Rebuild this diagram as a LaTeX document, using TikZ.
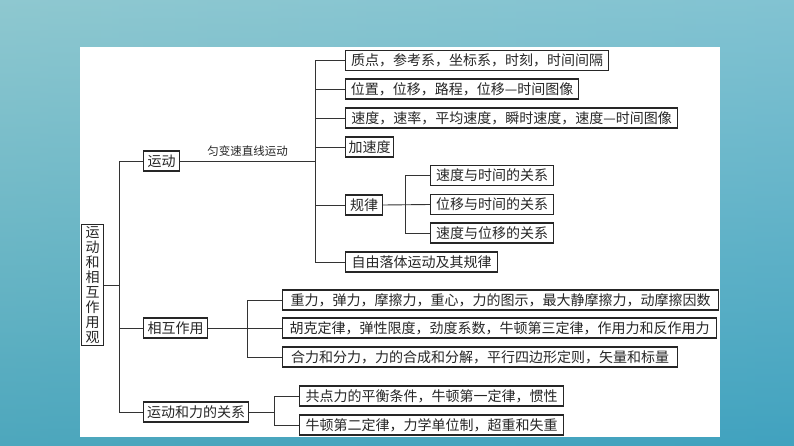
\documentclass[tikz,border=0pt]{standalone}
\usepackage{fontspec}
\newfontfamily\cjk{Noto Sans CJK SC}
\begin{document}
\begin{tikzpicture}[x=1pt,y=-1pt,
  bx/.style={draw=black!85,line width=1.1pt,fill=white,anchor=west,inner sep=0pt,minimum height=20pt,font=\cjk\fontsize{14}{15}\selectfont,text=black!85},
  ln/.style={draw=black!80,line width=0.9pt}]
\useasboundingbox (0,0) rectangle (794,446);
\shade[left color={rgb,255:red,95;green,175;blue,188},right color={rgb,255:red,70;green,165;blue,192}] (0,0) rectangle (794,446);
\shade[top color={rgb,255:red,190;green,225;blue,228},bottom color={rgb,255:red,60;green,160;blue,190},opacity=0.5] (0,0) rectangle (794,446);
\fill[white] (80,47) rectangle (720,437);
% root
\node[bx,minimum width=22pt,minimum height=121pt,align=center,font=\cjk\fontsize{14}{15}\selectfont] (root) at (81,285) {运\\动\\和\\相\\互\\作\\用\\观};
% level 1
\node[bx,minimum width=36pt] (yd) at (143,161) {运动};
\node[bx,minimum width=64pt] (xh) at (143,328) {相互作用};
\node[bx,minimum width=105pt] (gx) at (143,412) {运动和力的关系};
\coordinate (v1) at (119,285);
\draw[ln] (root.east) -- (v1);
\draw[ln] (yd.west) -| (119,412) -- (gx.west);
\draw[ln] (xh.west) -- (119,328);
% motion branch
\node[bx,minimum width=263pt] (a1) at (345,60.5) {质点，参考系，坐标系，时刻，时间间隔};
\node[bx,minimum width=233pt] (a2) at (345,89) {位置，位移，路程，位移—时间图像};
\node[bx,minimum width=332pt] (a3) at (345,118) {速度，速率，平均速度，瞬时速度，速度—时间图像};
\node[bx,minimum width=48pt] (a4) at (345,147) {加速度};
\node[bx,minimum width=37pt] (a5) at (345,205) {规律};
\node[bx,minimum width=152pt] (a6) at (345,262) {自由落体运动及其规律};
\draw[ln] (yd.east) -- node[above=1pt,font=\cjk\fontsize{11.5}{13}\selectfont,text=black!85]{匀变速直线运动} (315,161);
\draw[ln] (a1.west) -| (315,262) -- (a6.west);
\foreach \n in {a2,a3,a4,a5} \draw[ln] (\n.west) -- (315,0 |- \n.west);
\node[bx,minimum width=123pt] (b1) at (430,175.5) {速度与时间的关系};
\node[bx,minimum width=123pt] (b2) at (430,204.5) {位移与时间的关系};
\node[bx,minimum width=123pt] (b3) at (430,233) {速度与位移的关系};
\draw[ln] (b1.west) -| (405,233) -- (b3.west);
\draw[ln] (a5.east) -- (b2.west);
% interaction branch
\node[bx,minimum width=436pt] (c1) at (282,300) {重力，弹力，摩擦力，重心，力的图示，最大静摩擦力，动摩擦因数};
\node[bx,minimum width=434pt] (c2) at (282,328) {胡克定律，弹性限度，劲度系数，牛顿第三定律，作用力和反作用力};
\node[bx,minimum width=395pt] (c3) at (282,357) {合力和分力，力的合成和分解，平行四边形定则，矢量和标量};
\draw[ln] (c1.west) -| (247,357) -- (c3.west);
\draw[ln] (xh.east) -- (c2.west);
% relation branch
\node[bx,minimum width=264pt] (d1) at (299,396) {共点力的平衡条件，牛顿第一定律，惯性};
\node[bx,minimum width=264pt] (d2) at (299,425) {牛顿第二定律，力学单位制，超重和失重};
\draw[ln] (d1.west) -| (274,425) -- (d2.west);
\draw[ln] (gx.east) -- (274,412);
\end{tikzpicture}
\end{document}
